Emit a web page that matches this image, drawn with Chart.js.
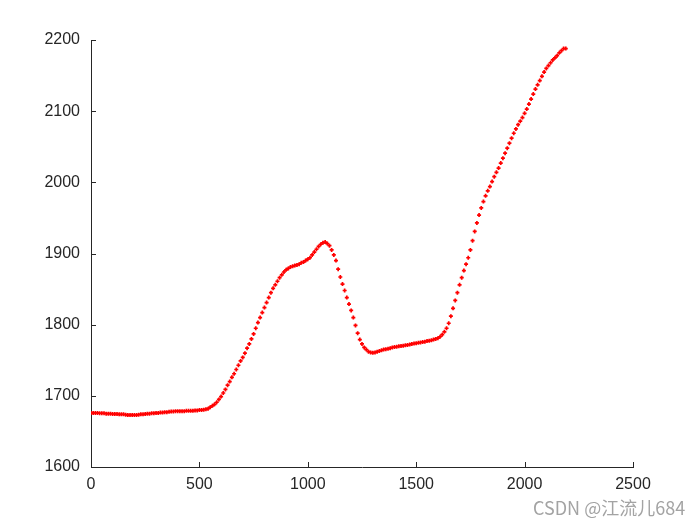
<!DOCTYPE html>
<html>
<head>
<meta charset="utf-8">
<script src="https://cdn.jsdelivr.net/npm/chart.js@4/dist/chart.umd.min.js"></script>
<style>
  html, body { margin: 0; padding: 0; background: #ffffff; }
  #wrap { position: relative; width: 700px; height: 525px; }
  #mark { position: absolute; left: 533px; top: 495px; font-family: "Noto Sans CJK SC", "Liberation Sans", sans-serif; font-size: 18px; line-height: 24px; color: #a3a3a3; white-space: nowrap; }
</style>
</head>
<body>
<div id="wrap">
  <canvas id="c" width="700" height="525"></canvas>
  <div id="mark">CSDN @江流儿684</div>
</div>
<script>
const xValues = [
  0,10,20,30,40,50,60,70,80,90,
  100,110,120,130,140,150,160,170,180,190,
  200,210,220,230,240,250,260,270,280,290,
  300,310,320,330,340,350,360,370,380,390,
  400,410,420,430,440,450,460,470,480,490,
  500,510,520,530,540,550,560,570,580,590,
  600,610,620,630,640,650,660,670,680,690,
  700,710,720,730,740,750,760,770,780,790,
  800,810,820,830,840,850,860,870,880,890,
  900,910,920,930,940,950,960,970,980,990,
  1000,1010,1020,1030,1040,1050,1060,1070,1080,1090,
  1100,1110,1120,1130,1140,1150,1160,1170,1180,1190,
  1200,1210,1220,1230,1240,1250,1260,1270,1280,1290,
  1300,1310,1320,1330,1340,1350,1360,1370,1380,1390,
  1400,1410,1420,1430,1440,1450,1460,1470,1480,1490,
  1500,1510,1520,1530,1540,1550,1560,1570,1580,1590,
  1600,1610,1620,1630,1640,1650,1660,1670,1680,1690,
  1700,1710,1720,1730,1740,1750,1760,1770,1780,1790,
  1800,1810,1820,1830,1840,1850,1860,1870,1880,1890,
  1900,1910,1920,1930,1940,1950,1960,1970,1980,1990,
  2000,2010,2020,2030,2040,2050,2060,2070,2080,2090,
  2100,2110,2120,2130,2140,2150,2160,2170,2180,2190
];
const yValues = [
  1676,1676,1676,1676,1675.5,1675.5,1675.5,1675,1675,1675,
  1674.5,1674.5,1674.5,1674,1674,1674,1673.5,1673,1673,1673,
  1673,1673,1673.5,1674,1674,1674.5,1675,1675,1675.5,1675.5,
  1676,1676,1676.5,1676.5,1677,1677,1677.5,1678,1678,1678.5,
  1678.5,1678.5,1678.5,1678.5,1679,1679,1679,1679,1679.5,1679.5,
  1680,1680,1680.5,1681,1682,1684,1686,1688,1691,1695,
  1699,1704,1709,1715,1720,1726,1731,1737,1743,1749,
  1754,1760,1767,1773,1780,1787,1795,1803,1810,1817,
  1824,1831,1838,1845,1851,1856,1861,1866,1870,1874,
  1877,1879,1881,1882,1883,1884,1885,1887,1888,1890,
  1892,1894,1898,1902,1906,1910,1913,1915,1916,1914,
  1911,1905,1898,1890,1878,1867,1857,1848,1838,1829,
  1820,1810,1799,1788,1779,1773,1768,1765,1762,1761,
  1760.5,1761,1762,1763,1764,1765,1765.5,1766,1767,1768,
  1768.5,1769,1769.5,1770,1770.5,1771,1771.5,1772,1773,1773.5,
  1774,1774.5,1775,1775.5,1776,1777,1777.5,1778,1779,1780,
  1781,1783,1786,1790,1795,1802,1812,1823,1834,1845,
  1856,1866,1876,1885,1894,1905,1918,1931,1943,1954,
  1964,1973,1981,1988,1994,2001,2008,2014,2020,2027,
  2034,2041,2048,2055,2062,2069,2075,2081,2086,2091,
  2097,2103,2110,2117,2124,2131,2137,2143,2149,2155,
  2160,2164,2168,2172,2175,2178,2182,2185,2188,2188
];
const xTicks = [0, 500, 1000, 1500, 2000, 2500];
const yTicks = [1600, 1700, 1800, 1900, 2000, 2100, 2200];

const points = xValues.map((x, i) => ({ x: x, y: yValues[i] }));

const inwardTicks = {
  id: 'inwardTicks',
  afterDraw(chart) {
    const ctx = chart.ctx;
    const xs = chart.scales.x, ys = chart.scales.y;
    const a = chart.chartArea;
    ctx.save();
    ctx.strokeStyle = '#262626';
    ctx.lineWidth = 1;
    ctx.beginPath();
    xTicks.forEach(v => {
      const px = Math.round(xs.getPixelForValue(v)) + 0.5;
      ctx.moveTo(px, a.bottom);
      ctx.lineTo(px, a.bottom - 5);
    });
    yTicks.forEach(v => {
      const py = Math.round(ys.getPixelForValue(v)) + 0.5;
      ctx.moveTo(a.left, py);
      ctx.lineTo(a.left + 5, py);
    });
    ctx.stroke();
    ctx.restore();
  }
};

const tickFont = { family: 'Liberation Sans, Arial, sans-serif', size: 16 };

new Chart(document.getElementById('c'), {
  type: 'scatter',
  data: {
    datasets: [{
      data: points,
      pointStyle: 'cross',
      radius: 2,
      pointBorderWidth: 1.7,
      borderColor: '#ff0000',
      backgroundColor: '#ff0000',
      showLine: false
    }]
  },
  options: {
    responsive: false,
    animation: false,
    devicePixelRatio: 1,
    layout: { padding: { left: 0, top: 40, right: 67, bottom: 0 } },
    plugins: { legend: { display: false }, tooltip: { enabled: false } },
    scales: {
      x: {
        type: 'linear',
        min: 0, max: 2500,
        afterBuildTicks: s => { s.ticks = xTicks.map(v => ({ value: v })); },
        afterFit: s => { s.height = 58; },
        grid: { drawOnChartArea: false, drawTicks: false },
        border: { display: true, color: '#262626', width: 1 },
        ticks: { color: '#262626', padding: 8, font: tickFont, maxRotation: 0, callback: v => String(v) }
      },
      y: {
        type: 'linear',
        min: 1600, max: 2200,
        afterBuildTicks: s => { s.ticks = yTicks.map(v => ({ value: v })); },
        afterFit: s => { s.width = 91; },
        grid: { drawOnChartArea: false, drawTicks: false },
        border: { display: true, color: '#262626', width: 1 },
        ticks: { color: '#262626', padding: 11, font: tickFont, callback: v => String(v) }
      }
    }
  },
  plugins: [inwardTicks]
});
</script>
</body>
</html>
